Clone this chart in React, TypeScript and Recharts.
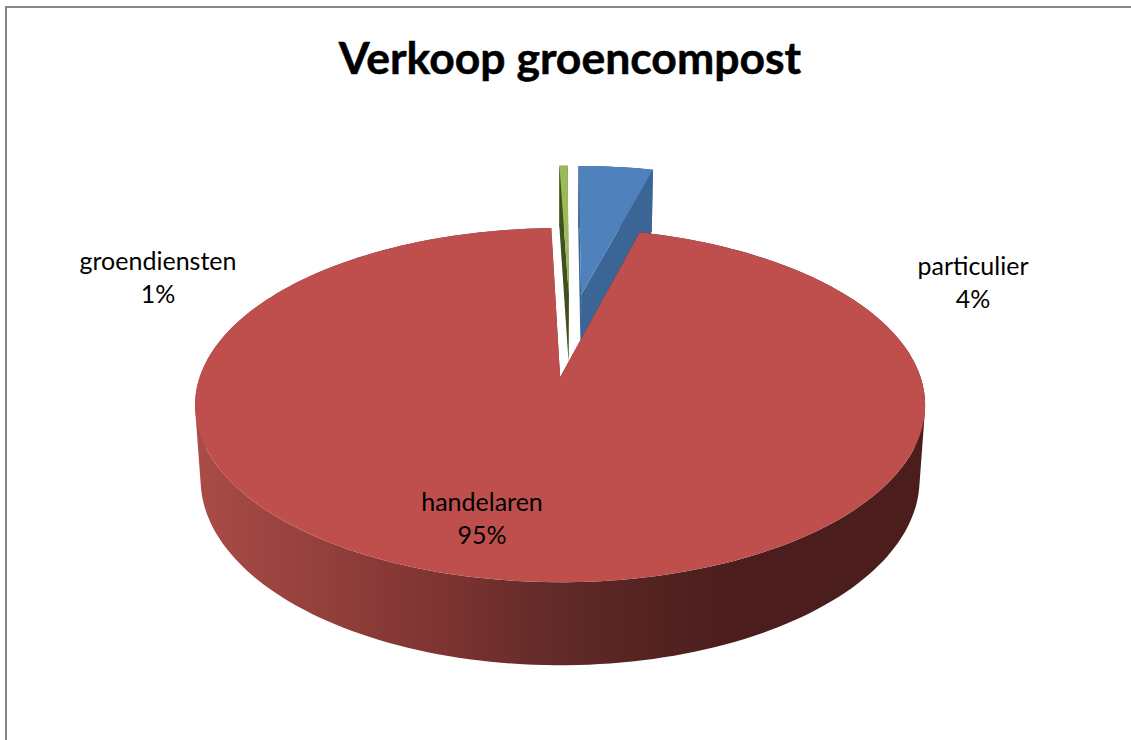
import { PieChart, Pie, Cell } from "recharts";

// drawn in this order so the big slice paints over the two exploded ones
const names = ["groendiensten", "particulier", "handelaren"];
const shares = [0.45, 4.1, 95.45];
const percentLabels = ["1%", "4%", "95%"];

const data = names.map((name, i) => ({ name, value: shares[i] }));

const TOP_COLORS: Record<string, string> = {
  groendiensten: "#9bbb59",
  particulier: "#4f81bd",
  handelaren: "#be4f4c",
};
const SIDE_COLORS: Record<string, string> = {
  groendiensten: "#3f4f1e",
  particulier: "#3a6595",
  handelaren: "url(#redWall)",
};
const LABEL_POS: Record<string, [number, number]> = {
  groendiensten: [158, 270],
  particulier: [973, 275],
  handelaren: [482, 511],
};

// fake 3D: perspective projection of the flat pie onto a tilted plane
const TILT = 0.479;
const PERSPECTIVE = 0.158;
const DROP = 74.2;
const DROP_W = 0.015;
const EXPLODE = 0.26;
const SHIFT_X = 0.03;
const SHIFT_Y = -0.2574;
const RAD = Math.PI / 180;

function Slice3D(props: any) {
  const { cx, cy, outerRadius: R, startAngle, endAngle, name } = props;
  const mid = (startAngle + endAngle) / 2;
  const ox = Math.cos(mid * RAD) * EXPLODE + SHIFT_X;
  const oy = -Math.sin(mid * RAD) * EXPLODE + SHIFT_Y;

  const project = (X: number, Y: number, lower: boolean) => {
    const w = 1 - PERSPECTIVE * Y + (lower ? DROP_W : 0);
    return [cx + (R * X) / w, cy + (TILT * R * Y + (lower ? DROP : 0)) / w];
  };
  const rim = (deg: number, lower: boolean) =>
    project(ox + Math.cos(deg * RAD), oy - Math.sin(deg * RAD), lower);

  const quad = (pts: number[][]) =>
    "M" + pts.map((p) => p[0].toFixed(2) + "," + p[1].toFixed(2)).join("L") + "Z";

  // all wall pieces wound the same way, or overlaps cancel out under nonzero fill
  const wound = (pts: number[][]) => {
    let area = 0;
    pts.forEach((p, i) => {
      const q = pts[(i + 1) % pts.length];
      area += p[0] * q[1] - q[0] * p[1];
    });
    return area < 0 ? [...pts].reverse() : pts;
  };

  const steps = Math.max(2, Math.ceil(Math.abs(startAngle - endAngle) / 1.5));
  const angles = Array.from(
    { length: steps + 1 },
    (_, i) => startAngle + ((endAngle - startAngle) * i) / steps
  );

  let side = "";
  for (let i = 0; i < steps; i++) {
    const a = angles[i];
    const b = angles[i + 1];
    side += quad(wound([rim(a, false), rim(b, false), rim(b, true), rim(a, true)]));
  }
  const apexTop = project(ox, oy, false);
  const apexLow = project(ox, oy, true);
  const cut1 = quad([apexTop, rim(startAngle, false), rim(startAngle, true), apexLow]);
  const cut2 = quad([apexLow, rim(endAngle, true), rim(endAngle, false), apexTop]);
  const top = quad([apexTop, ...angles.map((a) => rim(a, false))]);

  return (
    <g>
      <path d={side} fill={SIDE_COLORS[name]} />
      <path d={cut1} fill={SIDE_COLORS[name]} />
      <path d={cut2} fill={SIDE_COLORS[name]} />
      <path d={top} fill={TOP_COLORS[name]} />
    </g>
  );
}

function SliceLabel(props: any) {
  const { name, index } = props;
  const [x, y] = LABEL_POS[name];
  return (
    <text x={x} y={y} textAnchor="middle" fontFamily="Lato" fontSize={25} fill="#000">
      <tspan x={x}>{name}</tspan>
      <tspan x={x} dy={33}>{percentLabels[index]}</tspan>
    </text>
  );
}

export default function App() {
  return (
    <div
      style={{
        position: "absolute",
        left: 0,
        top: 0,
        width: 1131,
        height: 740,
        overflow: "hidden",
        background: "#fff",
      }}
    >
      <div
        style={{
          position: "absolute",
          left: 5,
          top: 6,
          width: 1200,
          height: 800,
          borderLeft: "2px solid #868686",
          borderTop: "2px solid #868686",
        }}
      />
      <div style={{ position: "absolute", left: 0, top: 0 }}>
        <PieChart width={1131} height={740} margin={{ top: 0, right: 0, bottom: 0, left: 0 }}>
          <defs>
            <linearGradient id="redWall" gradientUnits="userSpaceOnUse" x1={195} x2={925} y1={0} y2={0}>
              <stop offset="0" stopColor="#aa4c48" />
              <stop offset="0.33" stopColor="#7f3432" />
              <stop offset="0.5" stopColor="#602a28" />
              <stop offset="0.72" stopColor="#4b1e1d" />
              <stop offset="1" stopColor="#4b1e1d" />
            </linearGradient>
          </defs>
          <text
            x={570}
            y={74}
            textAnchor="middle"
            fontFamily="Lato"
            fontWeight={700}
            fontSize={44.5}
            fill="#000"
            stroke="#000"
            strokeWidth={0.5}
          >
            Verkoop groencompost
          </text>
          <Pie
            data={data}
            dataKey="value"
            nameKey="name"
            cx={560}
            cy={377}
            outerRadius={360.4}
            startAngle={91.62}
            endAngle={-268.38}
            stroke="none"
            shape={Slice3D}
            label={SliceLabel}
            labelLine={false}
            isAnimationActive={false}
          >
            {names.map((n) => (
              <Cell key={n} fill={TOP_COLORS[n]} />
            ))}
          </Pie>
        </PieChart>
      </div>
    </div>
  );
}
